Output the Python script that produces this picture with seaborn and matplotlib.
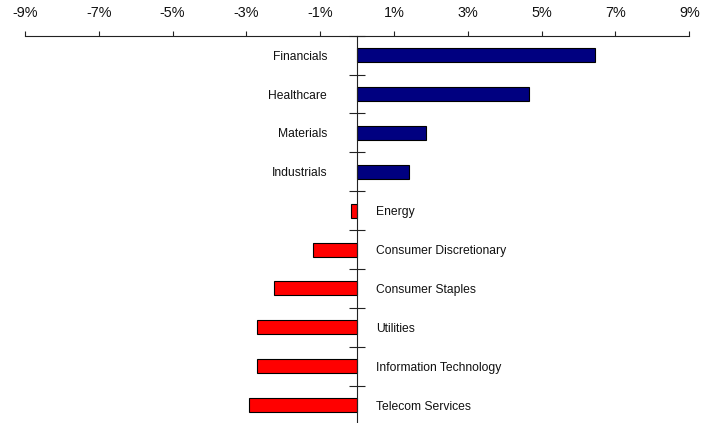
import matplotlib
matplotlib.use("Agg")
import matplotlib.pyplot as plt
import seaborn as sns
import numpy as np
import pandas as pd

sectors = ["Financials", "Healthcare", "Materials", "Industrials", "Energy",
           "Consumer Discretionary", "Consumer Staples", "Utilities",
           "Information Technology", "Telecom Services"]
returns = [6.44, 4.65, 1.86, 1.40, -0.17, -1.20, -2.25, -2.72, -2.72, -2.93]
xticks = [-9, -7, -5, -3, -1, 1, 3, 5, 7, 9]
xtick_labels = [f"{t}%" for t in xticks]

sns.set_theme(style="white")
plt.rcParams['font.family'] = ['Liberation Sans', 'DejaVu Sans']

df = pd.DataFrame({"sector": sectors, "ret": returns})
palette = {s: ("#000080" if r >= 0 else "#FF0000") for s, r in zip(sectors, returns)}

fig = plt.figure(figsize=(7.17, 4.23), dpi=100)
ax = fig.add_axes([25/717, 1 - 424.6/423, (689.3 - 25)/717, (424.6 - 35.7)/423])

sns.barplot(data=df, x="ret", y="sector", hue="sector", palette=palette,
            order=sectors, hue_order=sectors, legend=False, width=0.36,
            edgecolor="black", linewidth=0.8, orient="h", ax=ax, saturation=1)

ax.set_xlim(-9, 9)
ax.set_ylim(9.5, -0.5)
ax.set_xlabel("")
ax.set_ylabel("")

ax.xaxis.tick_top()
ax.set_xticks(xticks)
ax.set_xticklabels(xtick_labels, fontsize=10.4, color="#111111")
ax.tick_params(axis="x", direction="out", length=3.6, width=0.8, color="#222222",
               pad=7.5, top=True, bottom=False)

ax.set_yticks(np.arange(-0.5, 10, 1))
ax.set_yticklabels([""] * len(np.arange(-0.5, 10, 1)))
ax.tick_params(axis="y", direction="inout", length=11.5, width=0.8, color="#222222", left=True)

for s in ["right", "bottom"]:
    ax.spines[s].set_visible(False)
ax.spines["left"].set_position(("data", 0))
for s in ["left", "top"]:
    ax.spines[s].set_color("#222222")
    ax.spines[s].set_linewidth(0.8)

for i, (s, r) in enumerate(zip(sectors, returns)):
    if r >= 0:
        ax.annotate(s, xy=(0, i), xytext=(-30 * 0.72, -1.5 * 0.72), textcoords="offset points",
                    ha="right", va="center", fontsize=8.7, color="#111111")
    else:
        ax.annotate(s, xy=(0, i), xytext=(18.5 * 0.72, -1.5 * 0.72), textcoords="offset points",
                    ha="left", va="center", fontsize=8.7, color="#111111")

fig.savefig("out.png", dpi=100)
